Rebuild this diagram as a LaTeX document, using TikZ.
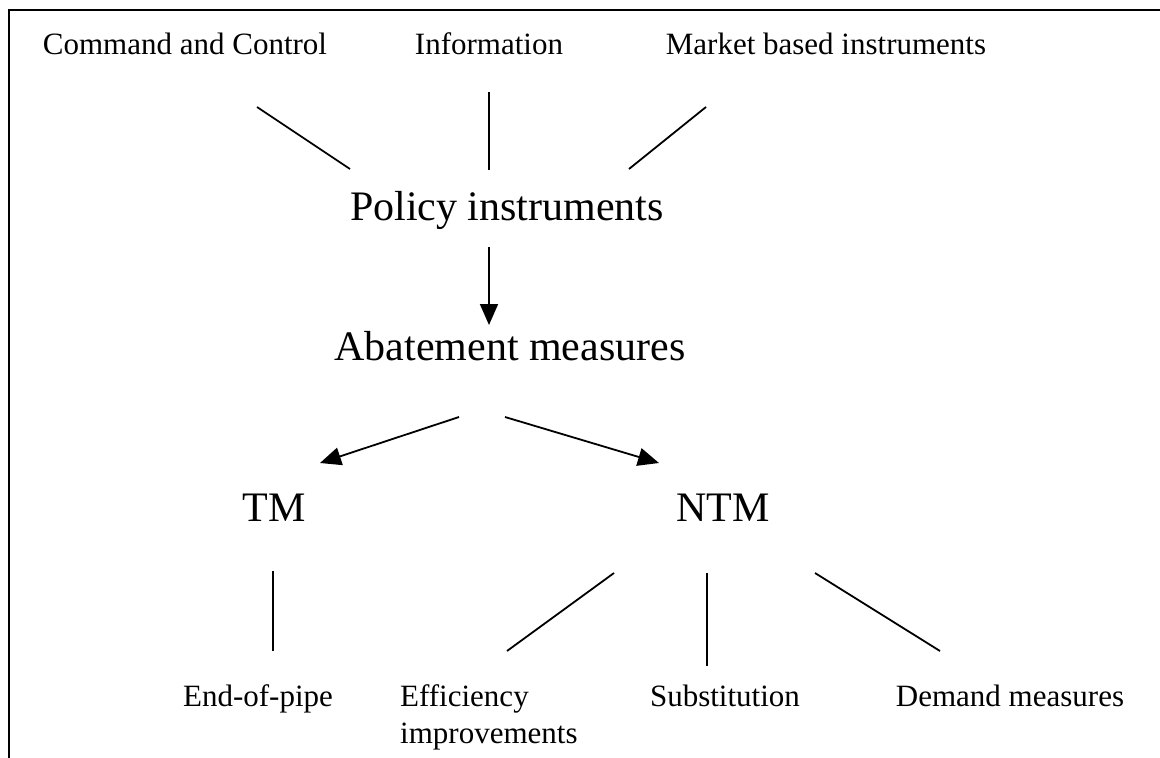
\documentclass[tikz,border=0pt]{standalone}
\usepackage{fontspec}
\setmainfont{Liberation Serif}
\usetikzlibrary{arrows.meta}

\tikzset{
  small/.style={font=\fontsize{31}{37}\selectfont, inner sep=0pt, anchor=base},
  big/.style={font=\fontsize{42}{48}\selectfont, inner sep=0pt, anchor=base},
  link/.style={line width=1.8pt},
  arr/.style={line width=1.8pt, -{Triangle[length=21pt,width=18pt]}}
}

\begin{document}
\begin{tikzpicture}[x=1pt,y=1pt,yscale=-1]
\useasboundingbox (0,0) rectangle (1160,758);

%Shape: Frame (top and left only)
\draw[line width=2.4pt] (9,758) -- (9,10) -- (1160,10);

% Text Node
\node[small] (cc) at (185,54) {Command and Control};
% Text Node
\node[small] (info) at (489,54) {Information};
% Text Node
\node[small] (mbi) at (826,54) {Market based instruments};
% Text Node
\node[big] (pol) at (507,220) {Policy instruments};
% Text Node
\node[big] (abat) at (510,360) {Abatement measures};
% Text Node
\node[big] (tm) at (274,521) {TM};
% Text Node
\node[big] (ntm) at (723,521) {NTM};
% Text Node
\node[small] (eop) at (258,706) {End-of-pipe};
% Text Node (base is on the last line)
\node[small, anchor=base west, align=left] (eff) at (400,743) {Efficiency\\improvements};
% Text Node
\node[small] (subst) at (725,706) {Substitution};
% Text Node
\node[small] (dem) at (1010,706) {Demand measures};

% line ends
\coordinate (cc-a) at (257,107);   \coordinate (cc-b) at (350,169);
\coordinate (info-a) at (489,92);  \coordinate (info-b) at (489,170);
\coordinate (mbi-a) at (706,107);  \coordinate (mbi-b) at (629,169);
\coordinate (pol-a) at (489,247);  \coordinate (abat-b) at (489,325);
\coordinate (abat-l) at (459,417); \coordinate (tm-b) at (320,463);
\coordinate (abat-r) at (505,417); \coordinate (ntm-b) at (659,463);
\coordinate (tm-a) at (273,571);   \coordinate (eop-b) at (273,651);
\coordinate (ntm-l) at (614,573);  \coordinate (eff-b) at (507,651);
\coordinate (ntm-m) at (707,573);  \coordinate (subst-b) at (707,666);
\coordinate (ntm-r) at (815,573);  \coordinate (dem-b) at (940,651);

%Straight Lines
\draw[link] (cc-a) -- (cc-b);
\draw[link] (info-a) -- (info-b);
\draw[link] (mbi-a) -- (mbi-b);
%Arrows
\draw[arr] (pol-a) -- (abat-b);
\draw[arr] (abat-l) -- (tm-b);
\draw[arr] (abat-r) -- (ntm-b);
%Straight Lines
\draw[link] (tm-a) -- (eop-b);
\draw[link] (ntm-l) -- (eff-b);
\draw[link] (ntm-m) -- (subst-b);
\draw[link] (ntm-r) -- (dem-b);
\end{tikzpicture}
\end{document}
